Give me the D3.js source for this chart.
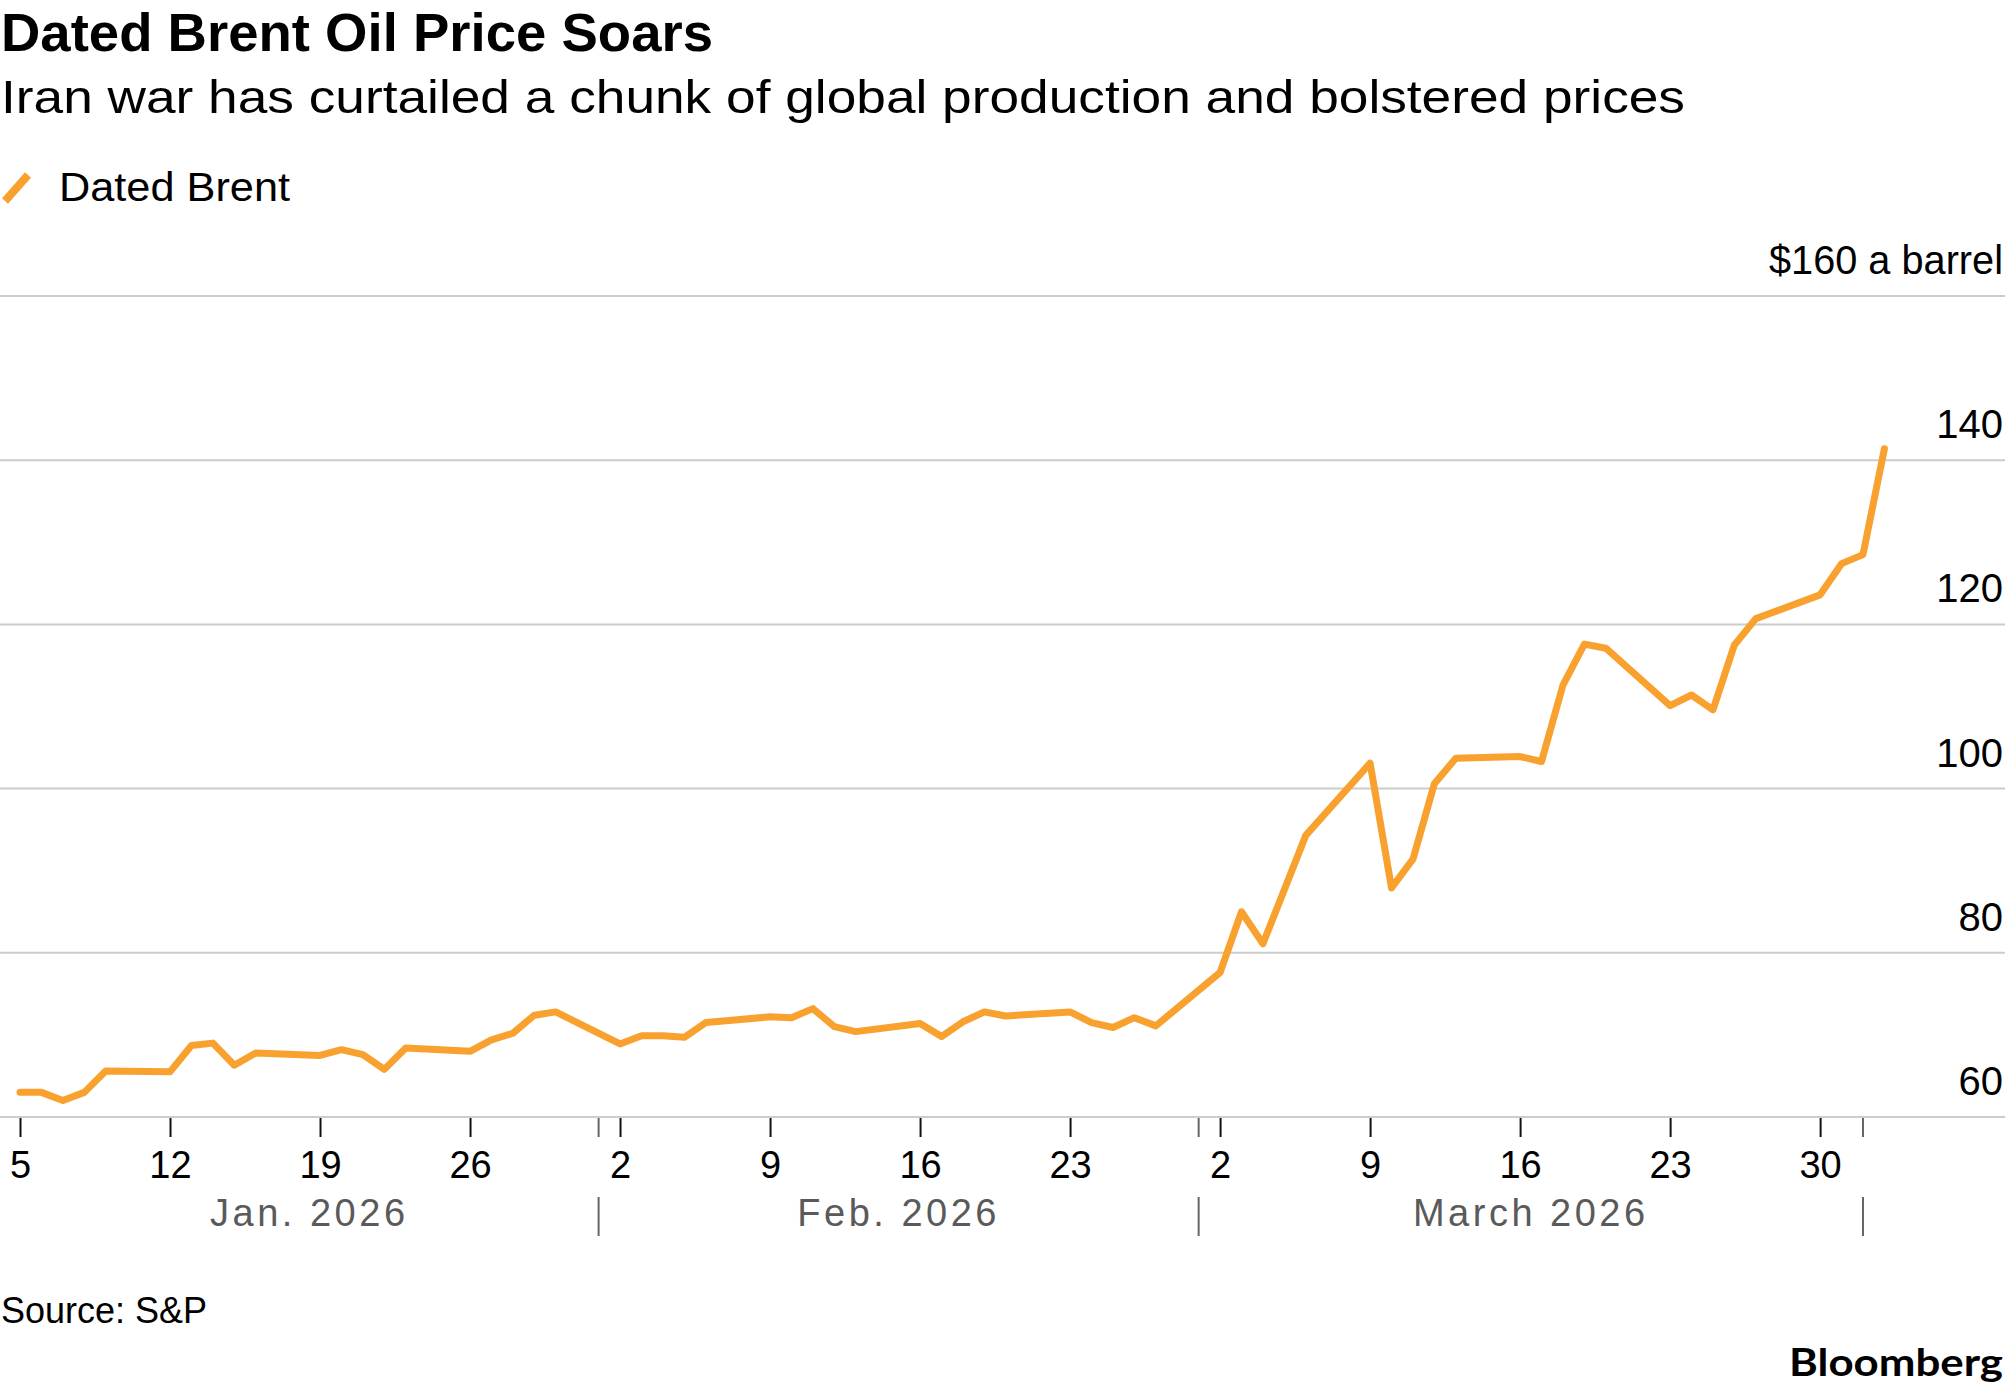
<!DOCTYPE html>
<html>
<head>
<meta charset="utf-8">
<script src="https://cdn.jsdelivr.net/npm/d3@7"></script>
<style>
  html, body { margin: 0; padding: 0; background: #fff; }
  svg { display: block; font-family: "Liberation Sans", Arial, Helvetica, sans-serif; }
</style>
</head>
<body>
<svg id="chart" width="2005" height="1392"></svg>
<script>
// ---- Data -----------------------------------------------------------------
var dates = [
  '2026-01-05', '2026-01-06', '2026-01-07', '2026-01-08', '2026-01-09',
  '2026-01-12', '2026-01-13', '2026-01-14', '2026-01-15', '2026-01-16',
  '2026-01-19', '2026-01-20', '2026-01-21', '2026-01-22', '2026-01-23',
  '2026-01-26', '2026-01-27', '2026-01-28', '2026-01-29', '2026-01-30',
  '2026-02-02', '2026-02-03', '2026-02-04', '2026-02-05', '2026-02-06',
  '2026-02-09', '2026-02-10', '2026-02-11', '2026-02-12', '2026-02-13',
  '2026-02-16', '2026-02-17', '2026-02-18', '2026-02-19', '2026-02-20',
  '2026-02-23', '2026-02-24', '2026-02-25', '2026-02-26', '2026-02-27',
  '2026-03-02', '2026-03-03', '2026-03-04', '2026-03-06',
  '2026-03-09', '2026-03-10', '2026-03-11', '2026-03-12', '2026-03-13',
  '2026-03-16', '2026-03-17', '2026-03-18', '2026-03-19', '2026-03-20',
  '2026-03-23', '2026-03-24', '2026-03-25', '2026-03-26', '2026-03-27',
  '2026-03-30', '2026-03-31', '2026-04-01', '2026-04-02'
];
var datedBrent = [
  63.0, 63.0, 62.0, 63.0, 65.6,
  65.5, 68.7, 69.0, 66.3, 67.8,
  67.5, 68.2, 67.6, 65.8, 68.4,
  68.0, 69.4, 70.2, 72.4, 72.8,
  68.9, 69.9, 69.9, 69.7, 71.5,
  72.2, 72.1, 73.2, 71.0, 70.4,
  71.4, 69.8, 71.6, 72.8, 72.3,
  72.8, 71.5, 70.9, 72.1, 71.1,
  77.6, 85.0, 81.1, 94.3,
  103.1, 87.9, 91.4, 100.6, 103.7,
  103.9, 103.3, 112.6, 117.6, 117.1,
  110.1, 111.4, 109.6, 117.5, 120.7,
  123.6, 127.4, 128.5, 141.4
];
var yTicks = [60, 80, 100, 120, 140, 160];
var monthBounds = ['2026-01-05', '2026-02-01', '2026-03-01', '2026-04-01'];
var monthLabels = ['Jan. 2026', 'Feb. 2026', 'March 2026'];

var parse = d3.utcParse('%Y-%m-%d');
var points = dates.map(function(d, i) { return { date: parse(d), value: datedBrent[i] }; });

// ---- Layout ---------------------------------------------------------------
var W = 2005, H = 1392;
var ORANGE = '#f9a12e';
var GRID = '#cccccc';

var svg = d3.select('#chart');
svg.append('rect').attr('width', W).attr('height', H).attr('fill', '#fff');

var x = d3.scaleUtc()
  .domain([parse('2026-01-05'), parse('2026-04-02')])
  .range([20, 20 + 87 * 21.43]);
var y = d3.scaleLinear()
  .domain([60, 160])
  .range([1117, 296]);

// ---- Header ---------------------------------------------------------------
svg.append('text')
  .attr('x', 1).attr('y', 51)
  .attr('font-size', 53).attr('font-weight', 'bold')
  .attr('textLength', 712).attr('lengthAdjust', 'spacingAndGlyphs')
  .attr('fill', '#000')
  .text('Dated Brent Oil Price Soars');

svg.append('text')
  .attr('x', 1).attr('y', 113)
  .attr('font-size', 46)
  .attr('textLength', 1684).attr('lengthAdjust', 'spacingAndGlyphs')
  .attr('fill', '#000')
  .text('Iran war has curtailed a chunk of global production and bolstered prices');

// legend
svg.append('line')
  .attr('x1', 5).attr('y1', 201).attr('x2', 28).attr('y2', 175)
  .attr('stroke', ORANGE).attr('stroke-width', 8);
svg.append('text')
  .attr('x', 59).attr('y', 201)
  .attr('font-size', 40)
  .attr('textLength', 231).attr('lengthAdjust', 'spacingAndGlyphs')
  .attr('fill', '#000')
  .text('Dated Brent');

// ---- Grid + y labels -------------------------------------------------------
var grid = svg.append('g').attr('class', 'grid');
grid.selectAll('line')
  .data(yTicks)
  .join('line')
  .attr('x1', 0).attr('x2', W)
  .attr('y1', function(d) { return y(d); })
  .attr('y2', function(d) { return y(d); })
  .attr('stroke', GRID).attr('stroke-width', 2);

grid.selectAll('text')
  .data(yTicks)
  .join('text')
  .attr('x', 2003)
  .attr('y', function(d) { return y(d) - 22; })
  .attr('text-anchor', 'end')
  .attr('font-size', 40)
  .attr('fill', '#000')
  .each(function(d) {
    // the top label is narrower in the original face
    if (d === 160) d3.select(this).attr('textLength', 234).attr('lengthAdjust', 'spacingAndGlyphs');
  })
  .text(function(d) { return d === 160 ? '$160 a barrel' : d; });

// ---- X axis ---------------------------------------------------------------
var mondays = d3.utcMonday.range(parse('2026-01-05'), parse('2026-04-01'));
var xAxis = d3.axisBottom(x)
  .tickValues(mondays)
  .tickFormat(d3.utcFormat('%-d'))
  .tickSize(19)
  .tickPadding(14);

var gx = svg.append('g')
  .attr('transform', 'translate(0,' + (y(60) + 1) + ')')
  .call(xAxis);
gx.select('.domain').remove();
gx.selectAll('.tick line').attr('stroke', '#111').attr('stroke-width', 2);
gx.selectAll('.tick text')
  .attr('font-size', 38)
  .attr('font-family', '"Liberation Sans", Arial, sans-serif')
  .attr('fill', '#000');

// month boundaries: short tick on axis + separator in the month row
var bounds = monthBounds.map(parse);
var sep = svg.append('g').attr('class', 'months');
sep.selectAll('line.mtick')
  .data(bounds.slice(1))
  .join('line')
  .attr('class', 'mtick')
  .attr('x1', function(d) { return x(d); })
  .attr('x2', function(d) { return x(d); })
  .attr('y1', y(60) + 1).attr('y2', y(60) + 20)
  .attr('stroke', '#666').attr('stroke-width', 2);
sep.selectAll('line.msep')
  .data(bounds.slice(1))
  .join('line')
  .attr('class', 'msep')
  .attr('x1', function(d) { return x(d); })
  .attr('x2', function(d) { return x(d); })
  .attr('y1', 1197).attr('y2', 1236)
  .attr('stroke', '#666').attr('stroke-width', 2);
sep.selectAll('text')
  .data(monthLabels)
  .join('text')
  .attr('x', function(d, i) { return (x(bounds[i]) + x(bounds[i + 1])) / 2; })
  .attr('y', 1226)
  .attr('text-anchor', 'middle')
  .attr('font-size', 38)
  .attr('letter-spacing', 3.5)
  .attr('fill', '#5a5a5a')
  .text(function(d) { return d; });

// ---- Line -----------------------------------------------------------------
var line = d3.line()
  .x(function(d) { return x(d.date); })
  .y(function(d) { return y(d.value); });

svg.append('path')
  .datum(points)
  .attr('d', line)
  .attr('fill', 'none')
  .attr('stroke', ORANGE)
  .attr('stroke-width', 7)
  .attr('stroke-linejoin', 'round')
  .attr('stroke-linecap', 'round');

// ---- Footer ---------------------------------------------------------------
svg.append('text')
  .attr('x', 1).attr('y', 1323)
  .attr('font-size', 36)
  .attr('fill', '#000')
  .text('Source: S&P');

svg.append('text')
  .attr('x', 2003).attr('y', 1376)
  .attr('text-anchor', 'end')
  .attr('font-family', 'Lato, "Open Sans", sans-serif')
  .attr('font-size', 38).attr('font-weight', 'bold')
  .attr('textLength', 214).attr('lengthAdjust', 'spacingAndGlyphs')
  .attr('fill', '#000')
  .text('Bloomberg');
</script>
</body>
</html>
